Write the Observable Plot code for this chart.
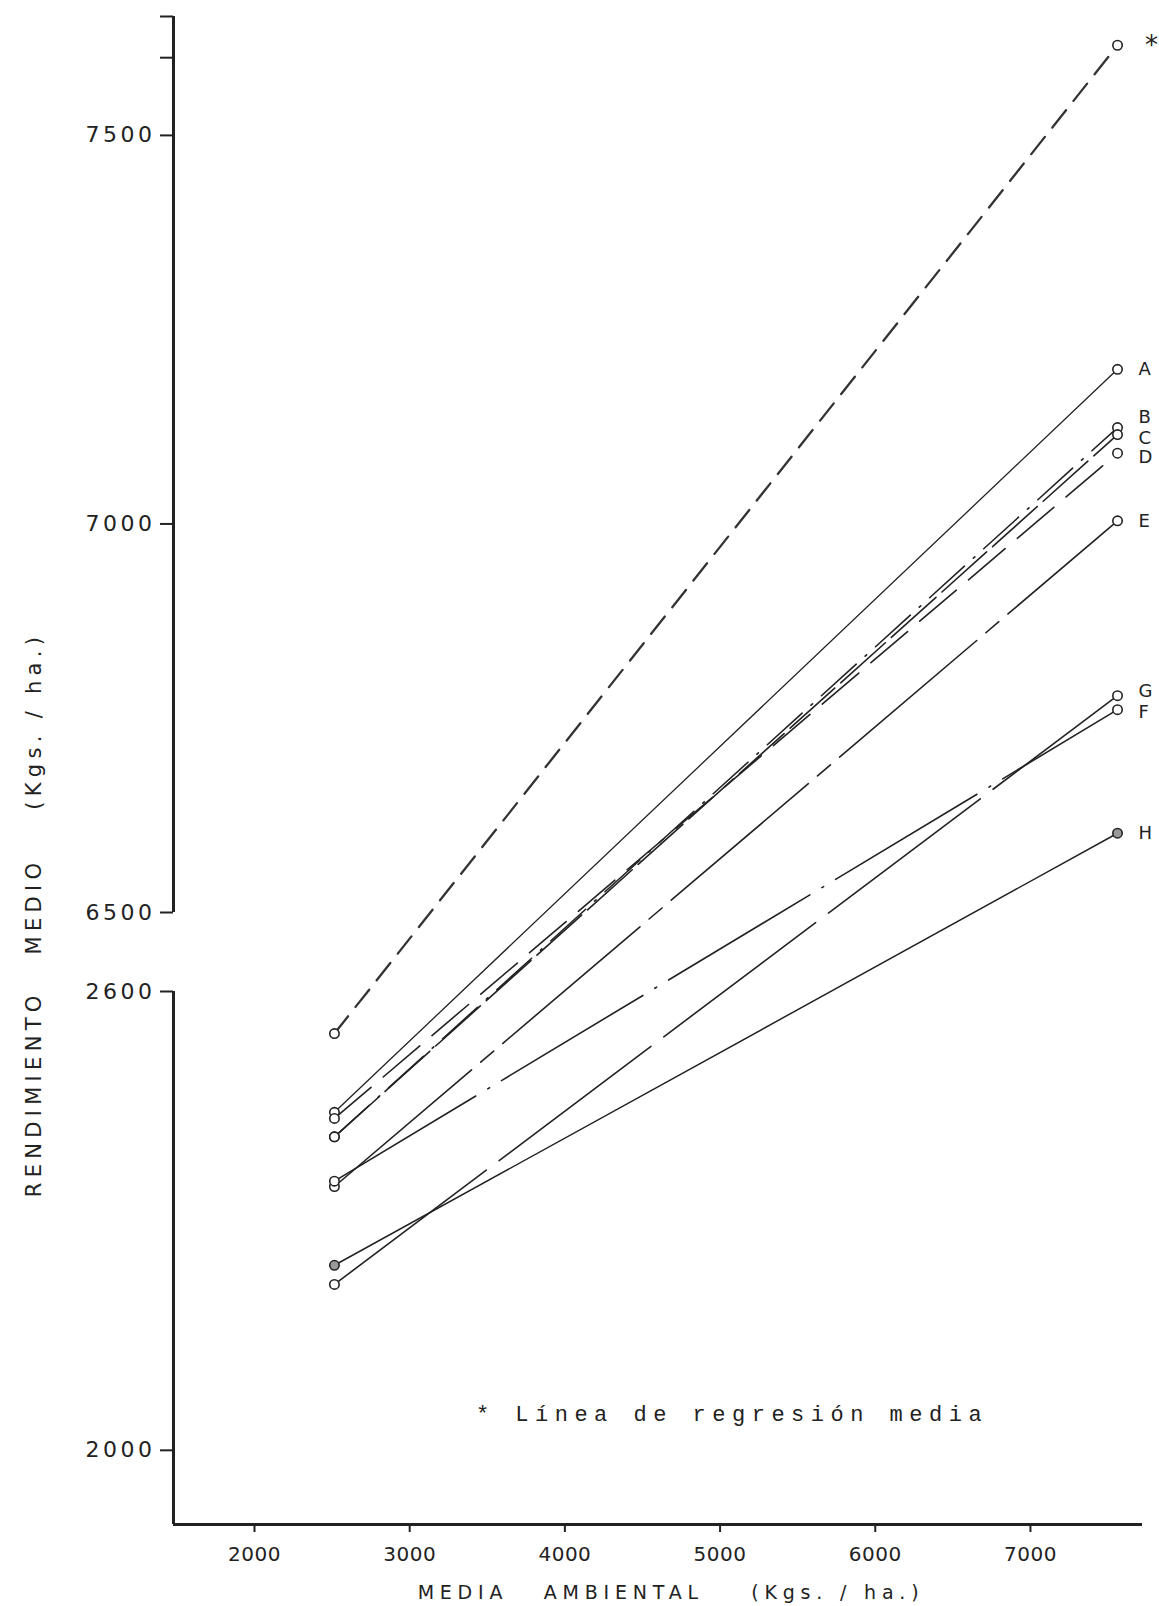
<!DOCTYPE html>
<html><head><meta charset="utf-8">
<script src="https://cdn.jsdelivr.net/npm/d3@7"></script>
<script src="https://cdn.jsdelivr.net/npm/@observablehq/plot@0.6"></script>
<style>
html,body{margin:0;padding:0;background:#fff;}
#chart svg{display:block;}
g[aria-label="y-axis tick label"] text{letter-spacing:3.5px;}
g[aria-label="x-axis tick label"] text{letter-spacing:0.5px;}
</style></head><body><div id="chart"></div>
<script>
// ---- data ----
const series = ["*", "A", "B", "C", "D", "E", "F", "G", "H"];
const xEnds = [2515, 7561];                       // media ambiental at both ends
const yLow  = [2545, 2442, 2410, 2410, 2434, 2345, 2352, 2217, 2242]; // rendimiento at low end
const yHigh = [7616, 7199, 7124, 7115, 7091, 7004, 6761, 6779, 6602]; // rendimiento at high end
const xTicks = [2000, 3000, 4000, 5000, 6000, 7000];
const yTickLabels = [2000, 2600, 6500, 7000, 7500];
const yExtraTicks = [7600, 7653];
const xDomain = [1478, 7722];
const yLowerSeg = [1903, 2600];   // lower piece of broken axis
const yUpperSeg = [6500, 7653];   // upper piece of broken axis
const xTitle = "MEDIA\u00a0\u00a0 AMBIENTAL\u00a0\u00a0\u00a0 (Kgs. / ha.)";
const yTitle = "RENDIMIENTO\u00a0\u00a0 MEDIO\u00a0\u00a0\u00a0 (Kgs. / ha.)";
const note = "* Línea de regresión media";

// ---- table ----
const rows = series.flatMap((s, i) => [
  {s, x: xEnds[0], y: yLow[i]},
  {s, x: xEnds[1], y: yHigh[i]}
]);
const rightEnds = rows.filter(d => d.x === xEnds[1]);

// ---- layout / style ----
const W = 1159, H = 1606;
const mL = 173, mR = 17, mT = 16, mB = 82;
const yRange = [H - mB, 991, 912, mT];
const ink = "#222";
const lineStyle = {
  "*": {dash: "22,12", w: 2.3, c: "#333"},
  A: {dash: undefined, w: 1.3, c: ink},
  B: {dash: "47,12,2,12", w: 1.6, c: ink},
  C: {dash: "60,8", w: 1.6, c: ink},
  D: {dash: "48,16", w: 1.6, c: ink},
  E: {dash: "180,12,17,12", w: 1.6, c: ink},
  F: {dash: "165,14,2,14", w: 1.6, c: ink},
  G: {dash: "190,16", w: 1.6, c: ink},
  H: {dash: undefined, w: 1.5, c: ink}
};
const labelNudge = {"*": [34, 0], A: [21, 0], B: [21, -10], C: [21, 4], D: [21, 4], E: [21, 0], F: [21, 3], G: [21, -4], H: [21, 0]};
const spacing = [[xTitle, "5.8px"], [yTitle, "5.3px"], [note, "6.5px"]];

const marks = [];
// axis lines
marks.push(Plot.ruleY([yLowerSeg[0]], {stroke: ink, strokeWidth: 3}));
marks.push(Plot.ruleX([yLowerSeg, yUpperSeg], {x: () => xDomain[0], y1: d => d[0], y2: d => d[1], stroke: ink, strokeWidth: 3}));
// axes
marks.push(Plot.axisY([...yTickLabels, ...yExtraTicks], {
  tickFormat: d => yTickLabels.includes(d) ? String(d) : "",
  tickSize: 13, tickPadding: 5, strokeWidth: 2, stroke: ink, fill: ink, fontSize: 22, label: null
}));
marks.push(Plot.axisX(xTicks, {
  tickFormat: d => String(d), tickSize: 8, tickPadding: 14, strokeWidth: 2, stroke: ink, fill: ink, fontSize: 20, label: null
}));
// lines
for (const s of series) {
  const st = lineStyle[s];
  marks.push(Plot.line(rows.filter(d => d.s === s), {
    x: "x", y: "y", stroke: st.c, strokeWidth: st.w, strokeDasharray: st.dash
  }));
}
// end points
marks.push(Plot.dot(rows.filter(d => d.s !== "H"), {x: "x", y: "y", r: 4.7, stroke: ink, strokeWidth: 1.6, fill: "white"}));
marks.push(Plot.dot(rows.filter(d => d.s === "H"), {x: "x", y: "y", r: 4.7, stroke: ink, strokeWidth: 1.6, fill: "#999"}));
// labels
for (const d of rightEnds) {
  const [dx, dy] = labelNudge[d.s];
  marks.push(Plot.text([d], {
    x: "x", y: "y", text: "s", dx, dy,
    textAnchor: d.s === "*" ? "middle" : "start",
    fontSize: d.s === "*" ? 26 : 18, fill: ink
  }));
}
// titles and note
marks.push(Plot.text([xTitle], {text: d => d, frameAnchor: "bottom", textAnchor: "middle", lineAnchor: "middle", dx: 13, dy: 68, fontSize: 19, fill: ink}));
marks.push(Plot.text([yTitle], {text: d => d, frameAnchor: "left", textAnchor: "middle", lineAnchor: "middle", rotate: -90, dx: -139, dy: 144, fontSize: 21, fill: ink}));
marks.push(Plot.text([note], {text: d => d, frameAnchor: "bottom", textAnchor: "middle", lineAnchor: "middle", dx: 74, dy: -111, fontSize: 22, fontFamily: "Liberation Mono", fill: ink}));

const chart = Plot.plot({
  width: W, height: H,
  marginLeft: mL, marginRight: mR, marginTop: mT, marginBottom: mB,
  style: {fontFamily: "'DejaVu Sans', sans-serif", background: "white", color: ink},
  x: {type: "linear", domain: xDomain},
  y: {type: "linear", domain: [yLowerSeg[0], yLowerSeg[1], yUpperSeg[0], yUpperSeg[1]], range: yRange},
  marks
});
document.getElementById("chart").appendChild(chart);
d3.select(chart).selectAll("text").each(function () {
  const hit = spacing.find(([t]) => t === this.textContent);
  if (hit) this.style.letterSpacing = hit[1];
});
</script>
</body></html>
